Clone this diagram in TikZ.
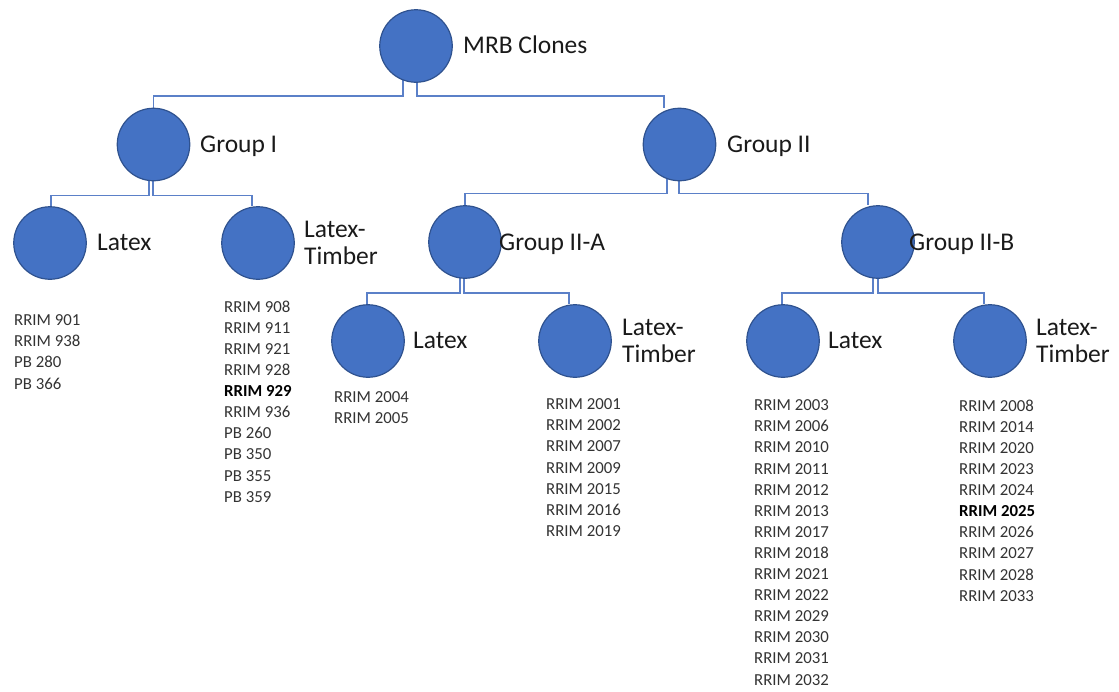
\documentclass[tikz,border=0pt]{standalone}
\usepackage{fontspec}
\setmainfont{Carlito}
\usetikzlibrary{backgrounds}
\definecolor{cfill}{HTML}{4472C4}
\definecolor{cedge}{HTML}{2F528F}
\definecolor{cline}{HTML}{5B80C8}
\definecolor{ctext}{HTML}{1A1A1A}
\definecolor{clist}{HTML}{333333}
\begin{document}
\begin{tikzpicture}[x=1pt,y=-1pt,
  bub/.style={circle,fill=cfill,draw=cedge,line width=1.2pt,minimum size=72.5pt,inner sep=0pt},
  lab/.style={anchor=base west,inner sep=0pt,text=ctext,font=\fontsize{25.5}{26.5}\selectfont},
  lab2/.style={anchor=west,inner sep=0pt,text=ctext,align=left,font=\fontsize{25.5}{26.5}\selectfont},
  lst/.style={anchor=north west,inner sep=0pt,text=clist,align=left,font=\fontsize{16.8}{21.1}\selectfont},
  conn/.style={draw=cline,line width=1.4pt}]
\useasboundingbox (0,0) rectangle (1119,691);

% circles
\node[bub] (mrb) at (416,46) {};
\node[bub] (g1)  at (153.5,144.5) {};
\node[bub] (g2)  at (679.5,144.5) {};
\node[bub] (g1l) at (50,243) {};
\node[bub] (g1t) at (258,243) {};
\node[bub] (g2a) at (465,242) {};
\node[bub] (g2b) at (878,242) {};
\node[bub] (al)  at (368,341) {};
\node[bub] (at)  at (575,341) {};
\node[bub] (bl)  at (783,341) {};
\node[bub] (bt)  at (990,341) {};

% bars
\path (mrb.south) ++(0,13) coordinate (mrbbar);
\path (g1.south) ++(0,14) coordinate (gonebar);
\path (g2.south) ++(0,12) coordinate (gtwobar);
\path (g2a.south) ++(0,14) coordinate (abar);
\path (g2b.south) ++(0,14) coordinate (bbar);

\begin{scope}[on background layer]
\draw[conn] ([xshift=-13pt]mrb.center) -- ([xshift=-13pt]mrbbar) -| (g1.north);
\draw[conn] ([xshift=1pt]mrb.center) -- ([xshift=1pt]mrbbar) -| ([xshift=-15.5pt]g2.north);
\draw[conn] ([xshift=-4.5pt]g1.center) -- ([xshift=-4.5pt]gonebar) -| ([xshift=1pt]g1l.north);
\draw[conn] ([xshift=-0.5pt]g1.center) -- ([xshift=-0.5pt]gonebar) -| ([xshift=-6pt]g1t.north);
\draw[conn] ([xshift=-12.5pt]g2.center) -- ([xshift=-12.5pt]gtwobar) -| (g2a.north);
\draw[conn] ([xshift=-0.5pt]g2.center) -- ([xshift=-0.5pt]gtwobar) -| ([xshift=-10pt]g2b.north);
\draw[conn] ([xshift=-5pt]g2a.center) -- ([xshift=-5pt]abar) -| ([xshift=-1pt]al.north);
\draw[conn] ([xshift=-1pt]g2a.center) -- ([xshift=-1pt]abar) -| ([xshift=-6pt]at.north);
\draw[conn] ([xshift=-5pt]g2b.center) -- ([xshift=-5pt]bbar) -| ([xshift=-1pt]bl.north);
\draw[conn] ([xshift=0pt]g2b.center) -- ([xshift=0pt]bbar) -| ([xshift=-6pt]bt.north);
\end{scope}

% labels
\node[lab] (tmrb) at (463,53) {MRB Clones};
\node[lab] (tg1) at (200,152) {Group I};
\node[lab] (tg2) at (727,152) {Group II};
\node[lab] (tg2a) at (499,250) {Group II-A};
\node[lab] (tg2b) at (909,250) {Group II-B};
\node[lab] (tg1l) at (97,250) {Latex};
\node[lab] (tal) at (413,348) {Latex};
\node[lab] (tbl) at (828,348) {Latex};
\node[lab2] (tg1t) at (304,243) {Latex-\\Timber};
\node[lab2] (tat) at (622,341) {Latex-\\Timber};
\node[lab2] (tbt) at (1036,341) {Latex-\\Timber};

% lists
\node[lst] (lg1l) at (14,314.6) {RRIM 901\\RRIM 938\\PB 280\\PB 366};
\node[lst] (lg1t) at (224,300.6) {RRIM 908\\RRIM 911\\RRIM 921\\RRIM 928\\\textcolor{black}{\textbf{RRIM 929}}\\RRIM 936\\PB 260\\PB 350\\PB 355\\PB 359};
\node[lst] (lal) at (334,391.6) {RRIM 2004\\RRIM 2005};
\node[lst] (lat) at (546,398.6) {RRIM 2001\\RRIM 2002\\RRIM 2007\\RRIM 2009\\RRIM 2015\\RRIM 2016\\RRIM 2019};
\node[lst] (lbl) at (754,399.6) {RRIM 2003\\RRIM 2006\\RRIM 2010\\RRIM 2011\\RRIM 2012\\RRIM 2013\\RRIM 2017\\RRIM 2018\\RRIM 2021\\RRIM 2022\\RRIM 2029\\RRIM 2030\\RRIM 2031\\RRIM 2032};
\node[lst] (lbt) at (959,399.6) {RRIM 2008\\RRIM 2014\\RRIM 2020\\RRIM 2023\\RRIM 2024\\\textcolor{black}{\textbf{RRIM 2025}}\\RRIM 2026\\RRIM 2027\\RRIM 2028\\RRIM 2033};
\end{tikzpicture}
\end{document}
